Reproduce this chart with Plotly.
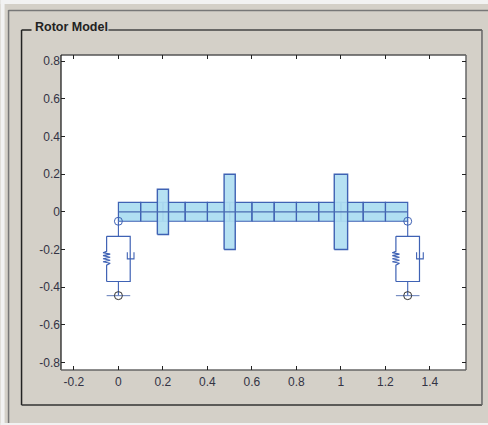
import plotly.graph_objects as go

# ---- data ----
shaft_nodes = [0, 0.1, 0.2, 0.3, 0.4, 0.5, 0.6, 0.7, 0.8, 0.9, 1.0, 1.1, 1.2, 1.3]
shaft_radius = 0.05
disk_pos = [0.2, 0.5, 1.0]
disk_radius = [0.12, 0.2, 0.2]
disk_width = [0.05, 0.05, 0.06]
bearing_pos = [0.0, 1.3]
bearing_top = -0.05
box_top = -0.13
box_bottom = -0.37
ground_y = -0.445
box_half = 0.053
spring_dx = [0, 0, -0.016, 0.016, -0.016, 0.016, -0.016, 0.016, -0.016, 0.016, 0, 0]
spring_y = [-0.13, -0.21, -0.217, -0.225, -0.233, -0.241, -0.249, -0.257, -0.265, -0.273, -0.283, -0.37]
damper_dx = [0.04, 0.04, 0.07, 0.07]
damper_y = [-0.215, -0.25, -0.25, -0.215]
x_ticks = [-0.2, 0, 0.2, 0.4, 0.6, 0.8, 1, 1.2, 1.4]
y_ticks = [-0.8, -0.6, -0.4, -0.2, 0, 0.2, 0.4, 0.6, 0.8]
x_range = [-0.258, 1.562]
y_range = [-0.84, 0.833]
title_text = "Rotor Model"

# ---- style ----
W, H = 488, 425
L, R, T, B = 60.5, 466, 55, 370
FILL = "#b0dff2"
EDGE = "#3f62b4"
GREY = "#d4d0c8"

def px(x):
    return (x - L) / (R - L)

def py(y):
    return (B - y) / (B - T)

def rect_path(x0, x1, y0, y1):
    return [x0, x1, x1, x0, x0, None], [y0, y0, y1, y1, y0, None]

fig = go.Figure()

# shaft elements
sx, sy = [], []
for a, b in zip(shaft_nodes[:-1], shaft_nodes[1:]):
    xs, ys = rect_path(a, b, -shaft_radius, shaft_radius)
    sx += xs
    sy += ys
fig.add_trace(go.Scatter(x=sx, y=sy, mode="lines", fill="toself", fillcolor=FILL,
                         line=dict(color=EDGE, width=1.2), hoverinfo="skip"))

# disks
for p, r, w in zip(disk_pos, disk_radius, disk_width):
    xs, ys = rect_path(p - w / 2, p + w / 2, -r, r)
    fig.add_trace(go.Scatter(x=xs, y=ys, mode="lines", fill="toself",
                             fillcolor="rgba(176,223,242,0.93)",
                             line=dict(color=EDGE, width=1.4), hoverinfo="skip"))

# centre line
fig.add_trace(go.Scatter(x=[shaft_nodes[0], shaft_nodes[-1]], y=[0, 0], mode="lines",
                         line=dict(color="#4a6cb0", width=1.2), hoverinfo="skip"))

# bearings
for p in bearing_pos:
    fig.add_trace(go.Scatter(x=[p, p], y=[bearing_top, box_top], mode="lines",
                             line=dict(color=EDGE, width=1.1), hoverinfo="skip"))
    fig.add_trace(go.Scatter(x=[p - box_half + d for d in spring_dx], y=spring_y, mode="lines",
                             line=dict(color=EDGE, width=1.2), hoverinfo="skip"))
    fig.add_trace(go.Scatter(
        x=[p - box_half, p + box_half, p + box_half, p - box_half],
        y=[box_top, box_top, box_bottom, box_bottom],
        mode="lines", line=dict(color=EDGE, width=1.2), hoverinfo="skip"))
    fig.add_trace(go.Scatter(x=[p + d for d in damper_dx], y=damper_y, mode="lines",
                             line=dict(color=EDGE, width=1.1), hoverinfo="skip"))
    fig.add_trace(go.Scatter(x=[p, p], y=[box_bottom, ground_y], mode="lines",
                             line=dict(color=EDGE, width=1.1), hoverinfo="skip"))
    fig.add_trace(go.Scatter(x=[p - box_half, p + box_half], y=[ground_y, ground_y], mode="lines",
                             line=dict(color="#6f86bf", width=1.1), hoverinfo="skip"))
    fig.add_trace(go.Scatter(x=[p], y=[bearing_top], mode="markers",
                             marker=dict(symbol="circle-open", size=8, color=EDGE, line=dict(width=1)),
                             hoverinfo="skip"))
    fig.add_trace(go.Scatter(x=[p], y=[ground_y], mode="markers",
                             marker=dict(symbol="circle-open", size=8, color="#333333", line=dict(width=1)),
                             hoverinfo="skip"))

def line(x0, y0, x1, y1, color, width=1.5):
    return dict(type="line", xref="paper", yref="paper", layer="below",
                x0=px(x0), y0=py(y0), x1=px(x1), y1=py(y1),
                line=dict(color=color, width=width))

shapes = [
    # light outer window margin
    dict(type="rect", xref="paper", yref="paper", layer="below", x0=px(0), x1=px(W),
         y0=py(4), y1=py(0), fillcolor="#f2f2f2", line=dict(width=0)),
    dict(type="rect", xref="paper", yref="paper", layer="below", x0=px(0), x1=px(4),
         y0=py(H), y1=py(0), fillcolor="#f2f2f2", line=dict(width=0)),
    dict(type="rect", xref="paper", yref="paper", layer="below", x0=px(0), x1=px(W),
         y0=py(H), y1=py(423), fillcolor="#f2f2f2", line=dict(width=0)),
    # outer frame
    line(8, 10.5, W, 10.5, "#777777", 1.5),
    line(8, 10, 8, 423, "#777777", 1.5),
    # group box
    line(21, 30, 31, 30, "#222222", 1.5),
    line(108, 30, 482, 30, "#444444", 1.5),
    line(21, 30, 21, 405, "#222222", 1.5),
    line(21, 405, 482, 405, "#333333", 1.5),
    line(482, 30, 482, 405, "#666666", 1.5),
    # axes box, darker top and left
    line(L, T, R, T, "#555555", 1.5),
    line(L, T, L, B, "#111111", 1.2),
    line(L, B, R, B, "#666666", 1.5),
    line(R, T, R, B, "#666666", 1.5),
]

axis_font = dict(family="Liberation Sans, Arial, sans-serif", size=12, color="#333344")

fig.update_layout(
    width=W, height=H,
    margin=dict(l=L, r=W - R, t=T, b=H - B, pad=0, autoexpand=False),
    paper_bgcolor=GREY, plot_bgcolor="white",
    showlegend=False,
    shapes=shapes,
    annotations=[dict(text="<b>" + title_text + "</b>", xref="paper", yref="paper",
                      x=px(32), y=py(27), xanchor="left", yanchor="middle", showarrow=False,
                      font=dict(family="Liberation Sans, Arial, sans-serif", size=12.5, color="#222222"))],
    xaxis=dict(range=x_range, tickmode="array", tickvals=x_ticks,
               ticktext=[str(v) for v in x_ticks], ticks="inside", ticklen=4, tickwidth=1,
               tickcolor="#222222", mirror="ticks", showgrid=False, zeroline=False,
               showline=False, tickfont=axis_font, ticklabelstandoff=3),
    yaxis=dict(range=y_range, tickmode="array", tickvals=y_ticks,
               ticktext=[str(v) for v in y_ticks], ticks="inside", ticklen=4, tickwidth=1,
               tickcolor="#222222", mirror="ticks", showgrid=False, zeroline=False,
               showline=False, tickfont=axis_font),
)

fig.write_html("out.html", config=dict(displayModeBar=False),
               post_script="document.body.style.margin='0';")
